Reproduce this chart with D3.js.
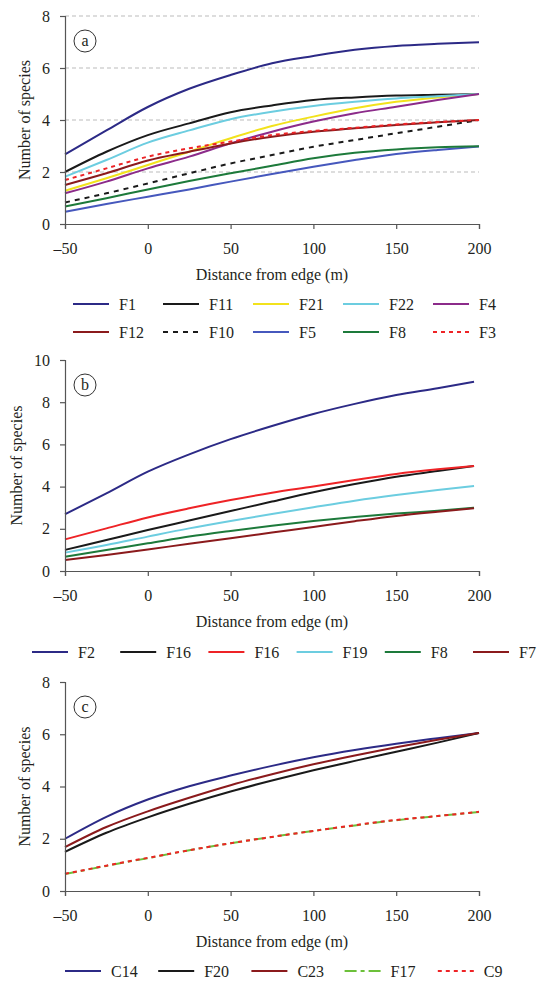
<!DOCTYPE html>
<html>
<head>
<meta charset="utf-8">
<script src="https://cdn.jsdelivr.net/npm/d3@7"></script>
<style>
  body { margin: 0; background: #fff; }
  svg { display: block; }
  svg text { font-family: "Liberation Serif", "Times New Roman", Tinos, "DejaVu Serif", serif; fill: #231f20; }
</style>
</head>
<body>
<div id="chart"></div>
<script>
// distances (m) at which the curves were read
var distA = [-50, -25, 0, 25, 50, 75, 100, 125, 150, 175, 200];
var distB = [-50, -25, 0, 25, 50, 75, 100, 125, 150, 175, 197];
var distC = [-50, -25, 0, 25, 50, 75, 100, 125, 150, 175, 200];

var xTicks = [-50, 0, 50, 100, 150, 200];
var yTicksA = [0, 2, 4, 6, 8];
var yTicksB = [0, 2, 4, 6, 8, 10];
var yTicksC = [0, 2, 4, 6, 8];

// panel a
var namesA = ["F1", "F11", "F21", "F22", "F4", "F12", "F10", "F5", "F8", "F3"];
var f1  = [2.68, 3.6, 4.5, 5.2, 5.73, 6.18, 6.46, 6.7, 6.85, 6.93, 6.99];
var f11 = [2.0, 2.78, 3.42, 3.87, 4.3, 4.56, 4.77, 4.87, 4.94, 4.97, 5.0];
var f21 = [1.28, 1.76, 2.27, 2.78, 3.3, 3.77, 4.13, 4.45, 4.7, 4.87, 5.0];
var f22 = [1.82, 2.46, 3.13, 3.6, 4.03, 4.32, 4.54, 4.7, 4.83, 4.91, 5.0];
var f4  = [1.18, 1.63, 2.14, 2.59, 3.1, 3.55, 3.94, 4.26, 4.51, 4.77, 5.0];
var f12 = [1.5, 1.95, 2.44, 2.78, 3.1, 3.36, 3.55, 3.68, 3.81, 3.91, 4.0];
var f10 = [0.83, 1.18, 1.56, 1.95, 2.33, 2.65, 2.97, 3.23, 3.49, 3.74, 4.0];
var f5  = [0.47, 0.77, 1.05, 1.33, 1.63, 1.92, 2.2, 2.46, 2.69, 2.85, 2.98];
var f8a = [0.67, 0.99, 1.33, 1.65, 1.95, 2.24, 2.53, 2.74, 2.87, 2.95, 2.99];
var f3  = [1.69, 2.14, 2.59, 2.91, 3.17, 3.42, 3.58, 3.7, 3.83, 3.92, 4.0];

// panel b
var namesB = ["F2", "F16", "F16", "F19", "F8", "F7"];
var f2   = [2.69, 3.68, 4.71, 5.53, 6.25, 6.87, 7.44, 7.92, 8.34, 8.66, 8.97];
var f16k = [1.0, 1.47, 1.94, 2.39, 2.84, 3.29, 3.73, 4.12, 4.47, 4.74, 4.98];
var f16r = [1.5, 2.02, 2.54, 2.97, 3.36, 3.71, 4.0, 4.31, 4.6, 4.82, 4.98];
var f19  = [0.87, 1.23, 1.63, 2.02, 2.37, 2.7, 3.02, 3.33, 3.6, 3.84, 4.03];
var f8b  = [0.68, 1.0, 1.31, 1.63, 1.9, 2.15, 2.37, 2.56, 2.72, 2.86, 3.0];
var f7   = [0.52, 0.76, 1.02, 1.29, 1.55, 1.82, 2.09, 2.36, 2.61, 2.81, 2.97];

// panel c
var namesC = ["C14", "F20", "C23", "F17", "C9"];
var c14 = [2.0, 2.84, 3.5, 4.01, 4.42, 4.79, 5.12, 5.4, 5.64, 5.85, 6.05];
var f20 = [1.5, 2.23, 2.82, 3.34, 3.81, 4.23, 4.62, 4.98, 5.33, 5.68, 6.05];
var c23 = [1.68, 2.45, 3.05, 3.57, 4.05, 4.47, 4.85, 5.19, 5.5, 5.79, 6.05];
var f17 = [0.65, 0.96, 1.26, 1.56, 1.83, 2.07, 2.3, 2.51, 2.71, 2.87, 3.02];
var c9  = [0.66, 0.97, 1.27, 1.56, 1.83, 2.07, 2.3, 2.52, 2.72, 2.87, 3.03];

var W = 547, H = 981;
var svg = d3.select("#chart").append("svg")
    .attr("width", W)
    .attr("height", H);

var x = d3.scaleLinear().domain([-50, 200]).range([65, 479]);
var fmt = function(d) { return d < 0 ? "\u2013" + Math.abs(d) : d; };

var line = d3.line()
    .x(function(d) { return x(d[0]); })
    .y(function(d) { return d[1]; })
    .curve(d3.curveMonotoneX);

function drawPanel(p) {
  var y = d3.scaleLinear().domain(p.yDomain).range([p.bottom, p.top]);
  var g = svg.append("g");

  // dashed grid (panel a only)
  if (p.grid) {
    g.selectAll("line.grid")
      .data(p.yTicks.filter(function(d) { return d > 0; }))
      .enter().append("line")
        .attr("x1", x(-50)).attr("x2", x(200))
        .attr("y1", y).attr("y2", y)
        .attr("stroke", "#bbbbbb")
        .attr("stroke-width", 1)
        .attr("stroke-dasharray", "4,3");
  }

  // series
  p.series.forEach(function(s) {
    var pts = p.dist.map(function(d, i) { return [d, y(s.values[i])]; });
    g.append("path")
      .attr("d", line(pts))
      .attr("fill", "none")
      .attr("stroke", s.color)
      .attr("stroke-width", 2)
      .attr("stroke-dasharray", s.dash || null);
  });

  // axes
  var xAxis = g.append("g")
      .attr("transform", "translate(0," + p.bottom + ")")
      .call(d3.axisBottom(x).tickValues(xTicks).tickFormat(fmt).tickSize(5).tickPadding(14));
  var yAxis = g.append("g")
      .attr("transform", "translate(65,0)")
      .call(d3.axisLeft(y).tickValues(p.yTicks).tickSize(5).tickPadding(10));
  [xAxis, yAxis].forEach(function(a) {
    a.attr("font-family", null);
    a.select(".domain").attr("stroke", "#555").attr("stroke-width", 1.2);
    a.selectAll(".tick line").attr("stroke", "#555").attr("stroke-width", 1.2);
    a.selectAll("text").attr("font-size", 16).attr("fill", "#231f20");
  });

  // axis titles
  g.append("text")
    .attr("x", (x(-50) + x(200)) / 2)
    .attr("y", p.bottom + 56)
    .attr("text-anchor", "middle")
    .attr("font-size", 16)
    .text("Distance from edge (m)");
  g.append("text")
    .attr("transform", "translate(" + p.yLabelX + "," + (p.top + p.bottom) / 2 + ") rotate(-90)")
    .attr("text-anchor", "middle")
    .attr("font-size", 16)
    .text("Number of species");

  // panel letter
  g.append("circle")
    .attr("cx", 85).attr("cy", p.top + 25).attr("r", 11)
    .attr("fill", "none").attr("stroke", "#333").attr("stroke-width", 1);
  g.append("text")
    .attr("x", 85).attr("y", p.top + 30)
    .attr("text-anchor", "middle")
    .attr("font-size", 16)
    .text(p.letter);

  // legend
  var leg = g.selectAll("g.leg")
    .data(p.series)
    .enter().append("g")
      .attr("transform", function(d, i) {
        var col = i % p.legCols, row = Math.floor(i / p.legCols);
        return "translate(" + (p.legX + col * p.legStep) + "," + (p.legY + row * 28) + ")";
      });
  leg.append("line")
    .attr("x1", 0).attr("x2", 36)
    .attr("stroke", function(d) { return d.color; })
    .attr("stroke-width", 2)
    .attr("stroke-dasharray", function(d) { return d.dash || null; });
  leg.append("text")
    .attr("x", 46).attr("y", 6)
    .attr("font-size", 16)
    .text(function(d) { return d.name; });
}

drawPanel({
  letter: "a", top: 16, bottom: 224, yDomain: [0, 8], yTicks: yTicksA, grid: true,
  yLabelX: 30, dist: distA, legX: 73, legY: 304, legStep: 90, legCols: 5,
  series: [
    { name: namesA[0], values: f1,  color: "#2c2a86" },
    { name: namesA[1], values: f11, color: "#1a1a1a" },
    { name: namesA[2], values: f21, color: "#f2e21c" },
    { name: namesA[3], values: f22, color: "#6ccde0" },
    { name: namesA[4], values: f4,  color: "#8c2b8a" },
    { name: namesA[5], values: f12, color: "#8b1a1c" },
    { name: namesA[6], values: f10, color: "#1a1a1a", dash: "5,5" },
    { name: namesA[7], values: f5,  color: "#4658bd" },
    { name: namesA[8], values: f8a, color: "#1d7a3b" },
    { name: namesA[9], values: f3,  color: "#ee2326", dash: "4,4" }
  ]
});

drawPanel({
  letter: "b", top: 360, bottom: 571, yDomain: [0, 10], yTicks: yTicksB, grid: false,
  yLabelX: 22, dist: distB, legX: 32, legY: 652, legStep: 88.2, legCols: 6,
  series: [
    { name: namesB[0], values: f2,   color: "#2c2a86" },
    { name: namesB[1], values: f16k, color: "#1a1a1a" },
    { name: namesB[2], values: f16r, color: "#ee2326" },
    { name: namesB[3], values: f19,  color: "#6ccde0" },
    { name: namesB[4], values: f8b,  color: "#1d7a3b" },
    { name: namesB[5], values: f7,   color: "#8b1a1c" }
  ]
});

drawPanel({
  letter: "c", top: 682, bottom: 891, yDomain: [0, 8], yTicks: yTicksC, grid: false,
  yLabelX: 30, dist: distC, legX: 65, legY: 971, legStep: 93.2, legCols: 5,
  series: [
    { name: namesC[0], values: c14, color: "#2c2a86" },
    { name: namesC[1], values: f20, color: "#1a1a1a" },
    { name: namesC[2], values: c23, color: "#8b1a1c" },
    { name: namesC[3], values: f17, color: "#6cc03a", dash: "12,4,4,4" },
    { name: namesC[4], values: c9,  color: "#ee2326", dash: "4,4" }
  ]
});
</script>
</body>
</html>
